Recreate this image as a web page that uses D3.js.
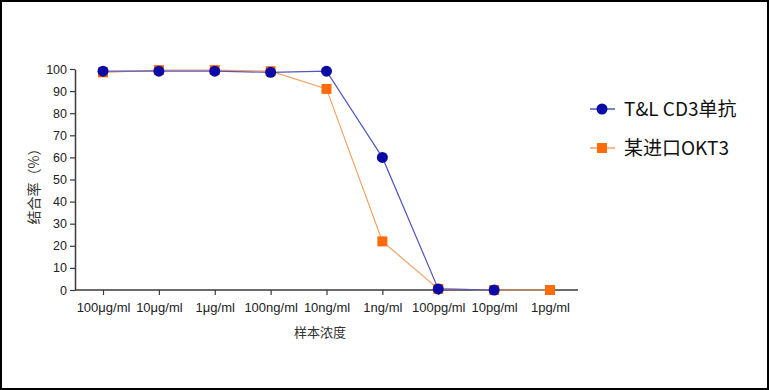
<!DOCTYPE html>
<html>
<head>
<meta charset="utf-8">
<script src="https://cdn.jsdelivr.net/npm/d3@7"></script>
<style>
  body { margin: 0; background: #fff; }
  svg { display: block; font-family: "Noto Sans CJK SC", "Noto Sans", sans-serif; }
</style>
</head>
<body>
<svg id="chart"></svg>
<script>
// concentrations along the x axis
const concentrations = ['100μg/ml', '10μg/ml', '1μg/ml', '100ng/ml', '10ng/ml', '1ng/ml', '100pg/ml', '10pg/ml', '1pg/ml']
// binding rate (%), null = no point drawn
const tlValues = [99, 99, 99, 98.5, 99, 60, 0.5, 0, null]
const okt3Values = [98.5, 99.5, 99.5, 99, 91, 22, 0.5, 0, 0]
const yTicks = [0, 10, 20, 30, 40, 50, 60, 70, 80, 90, 100]
const seriesNames = ['T&L CD3单抗', '某进口OKT3']

const width = 769
const height = 390
const margin = ({top: 69, right: 191, bottom: 100, left: 75})

const svg = d3.select('#chart')
  .attr('width', width)
  .attr('height', height)

// frame round the whole picture
svg.append('rect')
  .attr('x', 1).attr('y', 1)
  .attr('width', width - 2).attr('height', height - 2)
  .attr('fill', 'none')
  .attr('stroke', '#000')
  .attr('stroke-width', 2)

const x = d3.scalePoint()
  .domain(concentrations)
  .range([103, 550])

const y = d3.scaleLinear()
  .domain([0, 100])
  .range([height - margin.bottom, margin.top])

const axisColor = '#3a3a3a'

// x axis
const gx = svg.append('g')
  .attr('transform', `translate(0, ${y(0)})`)
  .call(d3.axisBottom(x).tickSize(5).tickPadding(8).tickSizeOuter(0))
gx.select('.domain').remove()
gx.append('line')
  .attr('x1', margin.left).attr('x2', 578)
  .attr('stroke', axisColor).attr('stroke-width', 1.5)
gx.selectAll('.tick line').attr('stroke', axisColor).attr('stroke-width', 1.2)
gx.selectAll('.tick text').attr('fill', '#222').attr('font-size', 13)

// y axis
const gy = svg.append('g')
  .attr('transform', `translate(${margin.left}, 0)`)
  .call(d3.axisLeft(y).tickValues(yTicks).tickSize(5).tickPadding(3).tickSizeOuter(0))
gy.select('.domain').attr('stroke', axisColor).attr('stroke-width', 1.5)
gy.selectAll('.tick line').attr('stroke', axisColor).attr('stroke-width', 1.2)
gy.selectAll('.tick text').attr('fill', '#222').attr('font-size', 12.5)

// axis titles
svg.append('text')
  .attr('x', 320).attr('y', 337)
  .attr('text-anchor', 'middle')
  .attr('font-size', 13)
  .attr('fill', '#333')
  .text('样本浓度')

svg.append('text')
  .attr('transform', `translate(39, 183) rotate(-90)`)
  .attr('text-anchor', 'middle')
  .attr('font-size', 14)
  .attr('fill', '#333')
  .text('结合率（%）')

const blue = '#0a0aa6'
const blueLine = '#5555bb'
const orange = '#ff6a0a'
const orangeLine = '#f2a266'

const line = d3.line()
  .defined(d => d.v !== null)
  .x(d => x(d.c))
  .y(d => y(d.v))

const tl = concentrations.map((c, i) => ({c: c, v: tlValues[i]}))
const okt3 = concentrations.map((c, i) => ({c: c, v: okt3Values[i]}))

svg.append('path')
  .datum(okt3)
  .attr('d', line)
  .attr('fill', 'none')
  .attr('stroke', orangeLine)
  .attr('stroke-width', 1.2)

svg.append('path')
  .datum(tl)
  .attr('d', line)
  .attr('fill', 'none')
  .attr('stroke', blueLine)
  .attr('stroke-width', 1.2)

svg.append('g')
  .selectAll('rect')
  .data(okt3.filter(d => d.v !== null))
  .join('rect')
    .attr('x', d => x(d.c) - 5)
    .attr('y', d => y(d.v) - 5)
    .attr('width', 10)
    .attr('height', 10)
    .attr('fill', orange)

svg.append('g')
  .selectAll('circle')
  .data(tl.filter(d => d.v !== null))
  .join('circle')
    .attr('cx', d => x(d.c))
    .attr('cy', d => y(d.v))
    .attr('r', 5.5)
    .attr('fill', blue)

// legend
const legend = svg.append('g')
const rows = [
  {name: seriesNames[0], y: 109, color: blue, lineColor: blueLine, shape: 'circle'},
  {name: seriesNames[1], y: 148, color: orange, lineColor: orangeLine, shape: 'square'}
]
rows.forEach(r => {
  legend.append('line')
    .attr('x1', 590).attr('x2', 615)
    .attr('y1', r.y).attr('y2', r.y)
    .attr('stroke', r.lineColor).attr('stroke-width', 1.5)
  if (r.shape === 'circle') {
    legend.append('circle')
      .attr('cx', 602).attr('cy', r.y).attr('r', 5.5)
      .attr('fill', r.color)
  } else {
    legend.append('rect')
      .attr('x', 597).attr('y', r.y - 5)
      .attr('width', 10).attr('height', 10)
      .attr('fill', r.color)
  }
  legend.append('text')
    .attr('x', 624).attr('y', r.y)
    .attr('dy', '0.36em')
    .attr('font-size', 19)
    .attr('fill', '#111')
    .text(r.name)
})
</script>
</body>
</html>
